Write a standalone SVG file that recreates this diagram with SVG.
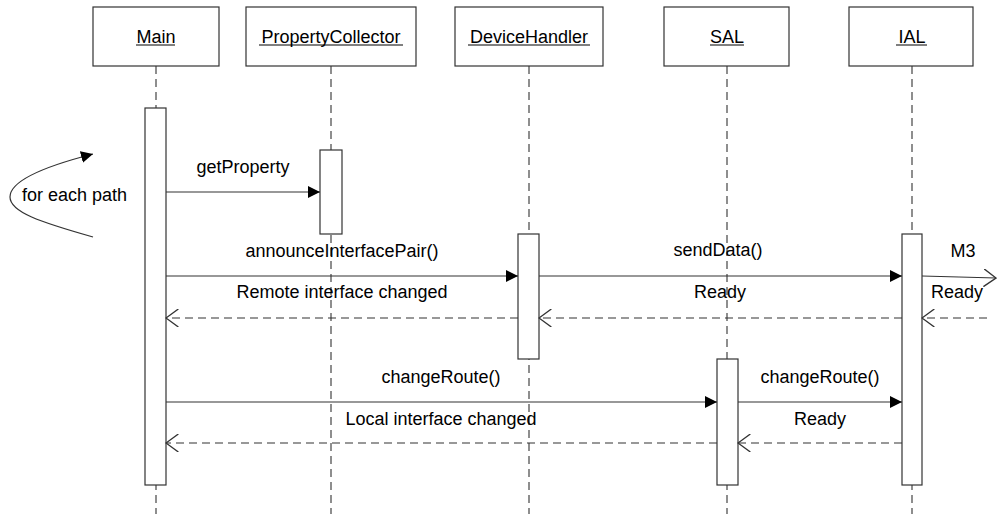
<svg xmlns="http://www.w3.org/2000/svg" width="997" height="514" viewBox="0 0 997 514">
<defs>
<style>
text{font-family:"Liberation Sans",Arial,sans-serif;font-size:18px;fill:#000}
.box{fill:#fff;stroke:#333;stroke-width:1.2}
.life{stroke:#444;stroke-width:1.2;stroke-dasharray:8,5;fill:none}
.act{fill:#fff;stroke:#333;stroke-width:1.2}
.msg{stroke:#333;stroke-width:1.2;fill:none}
.ret{stroke:#333;stroke-width:1.2;fill:none;stroke-dasharray:8,5}
.ul{stroke:#000;stroke-width:1}
.mid{text-anchor:middle}
</style>
<marker id="fill" markerWidth="12" markerHeight="12" refX="10" refY="5" orient="auto" markerUnits="userSpaceOnUse" viewBox="0 0 10 10">
<path d="M0,0 L10,5 L0,10 Z" fill="#000"/>
</marker>
<marker id="open" markerWidth="14" markerHeight="18" refX="11" refY="8" orient="auto" markerUnits="userSpaceOnUse" viewBox="0 0 12 16">
<path d="M0,0 L11,8 L0,16" fill="none" stroke="#333" stroke-width="1.2"/>
</marker>
</defs>
<g id="lifelines">
<line class="life" x1="156" y1="66" x2="156" y2="514"/>
<line class="life" x1="331" y1="66" x2="331" y2="514"/>
<line class="life" x1="529" y1="66" x2="529" y2="514"/>
<line class="life" x1="727" y1="66" x2="727" y2="514"/>
<line class="life" x1="912" y1="66" x2="912" y2="514"/>
</g>
<g id="Main">
<rect class="box" x="93" y="7" width="126" height="59"/>
<text class="mid" x="156" y="43">Main</text>
<line class="ul" x1="136" y1="45" x2="175" y2="45"/>
<rect class="act" x="145" y="108" width="21" height="377"/>
</g>
<g id="PropertyCollector">
<rect class="box" x="246" y="7" width="170" height="59"/>
<text class="mid" x="331" y="43">PropertyCollector</text>
<line class="ul" x1="259" y1="45" x2="403" y2="45"/>
<rect class="act" x="320" y="150" width="22" height="84"/>
</g>
<g id="DeviceHandler">
<rect class="box" x="455" y="7" width="148" height="59"/>
<text class="mid" x="529" y="43">DeviceHandler</text>
<line class="ul" x1="468" y1="45" x2="590" y2="45"/>
<rect class="act" x="518" y="234" width="21" height="125"/>
</g>
<g id="SAL">
<rect class="box" x="664" y="7" width="125" height="59"/>
<text class="mid" x="727" y="43">SAL</text>
<line class="ul" x1="710" y1="45" x2="744" y2="45"/>
<rect class="act" x="717" y="359" width="21" height="126"/>
</g>
<g id="IAL">
<rect class="box" x="849" y="7" width="124" height="59"/>
<text class="mid" x="912" y="43">IAL</text>
<line class="ul" x1="896" y1="45" x2="927" y2="45"/>
<rect class="act" x="902" y="234" width="20" height="251"/>
</g>
<g id="connectors">
<path class="msg" d="M93,237 C40,222 10,212 10,197 C10,180 50,165 93,154" marker-end="url(#fill)"/>
<line class="msg" x1="166" y1="192" x2="320" y2="192" marker-end="url(#fill)"/>
<line class="msg" x1="166" y1="276" x2="518" y2="276" marker-end="url(#fill)"/>
<line class="ret" x1="518" y1="318" x2="166" y2="318" marker-end="url(#open)"/>
<line class="msg" x1="539" y1="276" x2="902" y2="276" marker-end="url(#fill)"/>
<line class="ret" x1="902" y1="318" x2="539" y2="318" marker-end="url(#open)"/>
<line class="msg" x1="922" y1="276" x2="996" y2="278" marker-end="url(#open)"/>
<line class="ret" x1="987" y1="318" x2="922" y2="318" marker-end="url(#open)"/>
<line class="msg" x1="166" y1="402" x2="717" y2="402" marker-end="url(#fill)"/>
<line class="ret" x1="717" y1="443" x2="166" y2="443" marker-end="url(#open)"/>
<line class="msg" x1="738" y1="402" x2="902" y2="402" marker-end="url(#fill)"/>
<line class="ret" x1="902" y1="443" x2="738" y2="443" marker-end="url(#open)"/>
</g>
<g id="labels">
<text x="22" y="201">for each path</text>
<text class="mid" x="243" y="173">getProperty</text>
<text class="mid" x="342" y="257">announceInterfacePair()</text>
<text class="mid" x="342" y="298">Remote interface changed</text>
<text class="mid" x="718" y="256">sendData()</text>
<text class="mid" x="720" y="298">Ready</text>
<text class="mid" x="963" y="257">M3</text>
<text class="mid" x="957" y="298">Ready</text>
<text class="mid" x="441" y="383">changeRoute()</text>
<text class="mid" x="441" y="425">Local interface changed</text>
<text class="mid" x="820" y="383">changeRoute()</text>
<text class="mid" x="820" y="425">Ready</text>
</g>
</svg>
